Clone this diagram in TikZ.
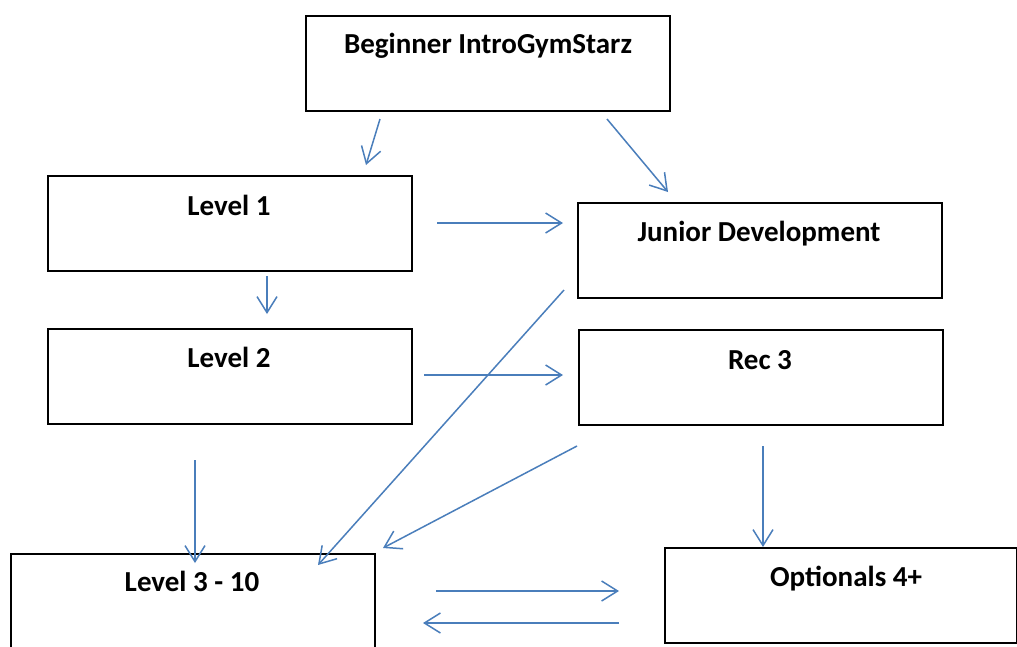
\documentclass[tikz,border=0pt]{standalone}
\usepackage{fontspec}
\setmainfont{Carlito}
\usetikzlibrary{arrows.meta}
\definecolor{arrowblue}{HTML}{4A7EBB}
\tikzset{
  box/.style={draw=black, line width=1.8pt, rectangle, inner sep=0pt, minimum width=364pt, minimum height=95pt, anchor=north west},
  lbl/.style={anchor=base, inner sep=0pt, font=\fontsize{29}{33}\selectfont\bfseries},
  conn/.style={draw=arrowblue, line width=1.5pt, -{Straight Barb[length=16pt,width=20pt,line width=1.5pt]}}
}
\begin{document}
\begin{tikzpicture}[x=1pt,y=-1pt]
\useasboundingbox[fill=white] (0,0) rectangle (1017,646);
% boxes
\node[box] (beg) at (305,15) {};
\node[box] (l1) at (47,175) {};
\node[box] (jd) at (577,202) {};
\node[box] (l2) at (47,328) {};
\node[box] (r3) at (578,329) {};
\node[box] (l310) at (10,553) {};
\node[box, minimum width=352pt] (opt) at (664,547) {};
% labels
\node[lbl] (tbeg) at (488,53) {Beginner IntroGymStarz};
\node[lbl] (tl1) at (229,215) {Level 1};
\node[lbl] (tjd) at (759,241) {Junior Development};
\node[lbl] (tl2) at (229,367) {Level 2};
\node[lbl] (tr3) at (760,369) {Rec 3};
\node[lbl] (tl310) at (192,591) {Level 3 - 10};
\node[lbl] (topt) at (846,586) {Optionals 4+};
% connector end points
\coordinate (a1s) at (380,119); \coordinate (a1e) at (366,165);
\coordinate (a2s) at (607,119); \coordinate (a2e) at (668,192);
\coordinate (a3s) at (437,223); \coordinate (a3e) at (563,223);
\coordinate (a4s) at (267,276); \coordinate (a4e) at (267,314);
\coordinate (a5s) at (564,290); \coordinate (a5e) at (318,565);
\coordinate (a6s) at (424,375); \coordinate (a6e) at (563,375);
\coordinate (a7s) at (195,460); \coordinate (a7e) at (195,563);
\coordinate (a8s) at (577,446); \coordinate (a8e) at (383,548);
\coordinate (a9s) at (763,446); \coordinate (a9e) at (763,547);
\coordinate (a10s) at (436,591); \coordinate (a10e) at (619,591);
\coordinate (a11s) at (619,623); \coordinate (a11e) at (423,623);
% connectors
\draw[conn] (a1s) -- (a1e);
\draw[conn] (a2s) -- (a2e);
\draw[conn] (a3s) -- (a3e);
\draw[conn] (a4s) -- (a4e);
\draw[conn] (a5s) -- (a5e);
\draw[conn] (a6s) -- (a6e);
\draw[conn] (a7s) -- (a7e);
\draw[conn] (a8s) -- (a8e);
\draw[conn] (a9s) -- (a9e);
\draw[conn] (a10s) -- (a10e);
\draw[conn] (a11s) -- (a11e);
\end{tikzpicture}
\end{document}
